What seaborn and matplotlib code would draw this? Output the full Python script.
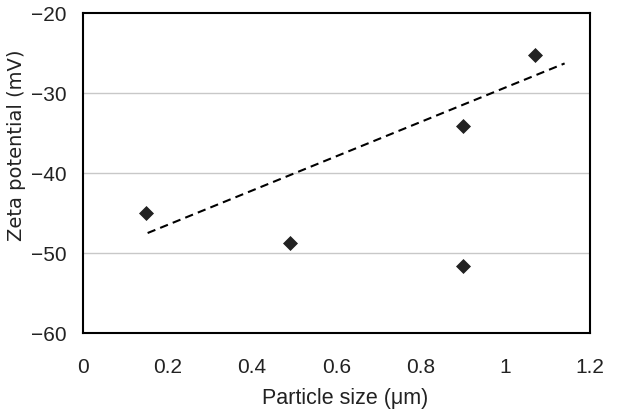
import matplotlib
matplotlib.use("Agg")
from matplotlib import pyplot as plt
import pandas as pd
import seaborn as sns

# particle size (um) vs zeta potential (mV)
particle_size = [0.15, 0.49, 0.90, 0.90, 1.07]
zeta_potential = [-45.0, -48.8, -34.1, -51.6, -25.3]

# dashed trend line end points
trend_x = [0.153, 1.14]
trend_y = [-47.5, -26.3]

x_ticks = [0, 0.2, 0.4, 0.6, 0.8, 1.0, 1.2]
x_tick_labels = ["0", "0.2", "0.4", "0.6", "0.8", "1", "1.2"]
y_ticks = [-60, -50, -40, -30, -20]

sns.set_style("white")
plt.rcParams["font.family"] = ["Liberation Sans Narrow", "Liberation Sans", "DejaVu Sans"]

df = pd.DataFrame({"size": particle_size, "zeta": zeta_potential})
trend = pd.DataFrame({"x": trend_x, "y": trend_y})

fig = plt.figure(figsize=(6.23, 4.12), dpi=100)
ax = fig.add_axes([0.1332, 0.1917, 0.8138, 0.7767])

for v in [-50, -40, -30]:
    ax.axhline(v, color="#c8c8c8", linewidth=1.0, zorder=0)

sns.lineplot(data=trend, x="x", y="y", ax=ax, color="black",
             linestyle=(0, (4, 2.5)), linewidth=1.5)
sns.scatterplot(data=df, x="size", y="zeta", ax=ax, marker="D", s=50,
                color="#222222", edgecolor="#222222", zorder=3)

ax.set_xlim(0, 1.2)
ax.set_ylim(-60, -20)
ax.set_xticks(x_ticks)
ax.set_xticklabels(x_tick_labels)
ax.set_yticks(y_ticks)
ax.set_yticklabels(["\u221260", "\u221250", "\u221240", "\u221230", "\u221220"])
ax.tick_params(axis="x", direction="in", length=7, width=1, color="#c8c8c8",
               labelsize=15, pad=18, labelcolor="#222222")
ax.tick_params(axis="y", length=0, labelsize=15, pad=12, labelcolor="#222222")

for sp in ax.spines.values():
    sp.set_color("black")
    sp.set_linewidth(1.5)

ax.set_xlabel("Particle size (\u03bcm)", fontsize=15.5, color="#222222")
ax.set_ylabel("Zeta potential (mV)", fontsize=14, color="#222222",
              family=["DejaVu Sans"])
ax.xaxis.set_label_coords(0.518, -0.172)
ax.yaxis.set_label_coords(-0.112, 0.5875)

plt.savefig("out.png", dpi=100)
plt.close()
